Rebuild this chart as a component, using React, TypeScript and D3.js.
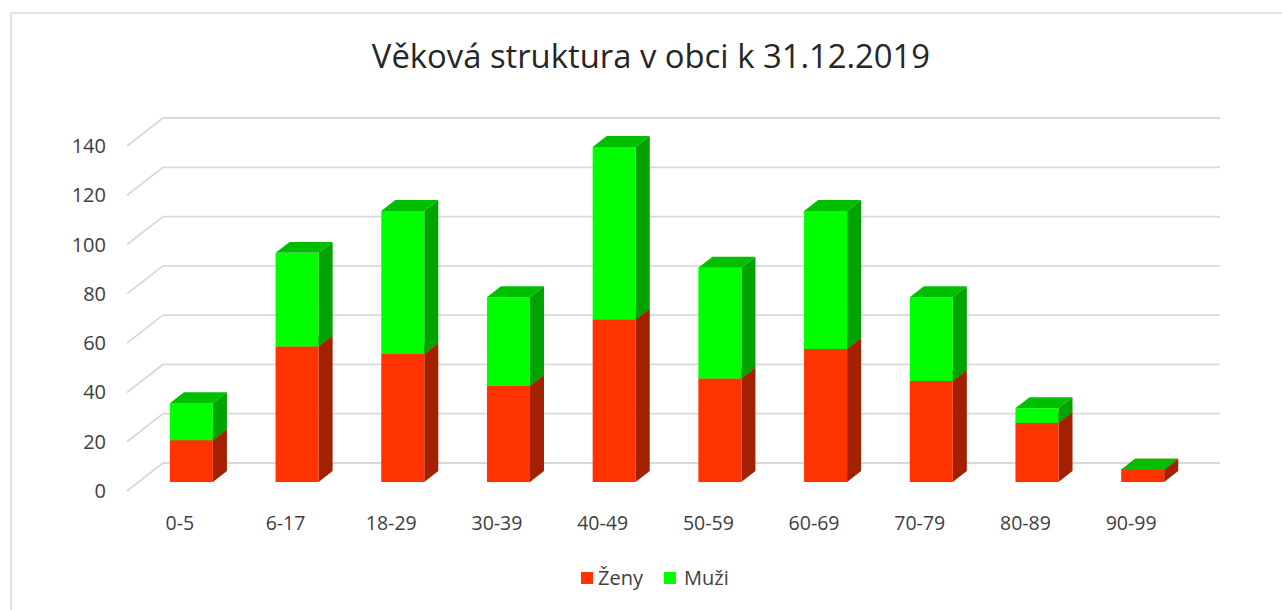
import React from "react";
import * as d3 from "d3";

const categories = ["0-5", "6-17", "18-29", "30-39", "40-49", "50-59", "60-69", "70-79", "80-89", "90-99"];
const zeny = [17, 55, 52, 39, 66, 42, 54, 41, 24, 5];
const muzi = [15, 38, 58, 36, 70, 45, 56, 34, 6, 0];
const yTicks = [0, 20, 40, 60, 80, 100, 120, 140];
const seriesNames = ["Ženy", "Muži"];
const title = "Věková struktura v obci k 31.12.2019";

const W = 1282;
const H = 610;
const FONT = "'Open Sans', 'Noto Sans', sans-serif";

const colors = [
  { front: "#FF3300", side: "#A32100", top: "#D42A00" },
  { front: "#00FF00", side: "#00A300", top: "#00BE00" },
];

export default function App() {
  const frontLeft = 127;
  const frontRight = 1184;
  const depthX = 36;
  const depthY = -28;

  const x = d3.scaleBand<string>().domain(categories).range([frontLeft, frontRight]).padding(0);
  const y = d3.scaleLinear().domain([0, 140]).range([491, 146]);

  const f0 = 0.32;
  const barDepth = 0.39;
  const bw = x.bandwidth() * 0.407;
  const bdx = depthX * barDepth;
  const bdy = depthY * barDepth;

  const stacked = d3.stack<number>().keys([0, 1]).value((i, k) => (k === 0 ? zeny[i] : muzi[i]))(
    categories.map((_, i) => i)
  );

  const bars: JSX.Element[] = [];
  categories.forEach((c, i) => {
    const cx = (x(c) as number) + x.bandwidth() / 2 + depthX * f0;
    const x0 = cx - bw / 2;
    const x1 = cx + bw / 2;
    stacked.forEach((s, k) => {
      const v0 = s[i][0];
      const v1 = s[i][1];
      const yb = y(v0) + depthY * f0;
      const yt = y(v1) + depthY * f0;
      const col = colors[k];
      bars.push(
        <g key={`${c}-${k}`}>
          <polygon
            points={`${x1},${yb} ${x1 + bdx},${yb + bdy} ${x1 + bdx},${yt + bdy} ${x1},${yt}`}
            fill={col.side}
          />
          <rect x={x0} y={yt} width={bw} height={Math.max(0, yb - yt)} fill={col.front} />
          <polygon
            points={`${x0},${yt} ${x1},${yt} ${x1 + bdx},${yt + bdy} ${x0 + bdx},${yt + bdy}`}
            fill={col.top}
          />
        </g>
      );
    });
  });

  return (
    <svg
      width={W}
      height={H}
      style={{ position: "absolute", left: 0, top: 0, display: "block", background: "#fff" }}
    >
      <rect x={0} y={0} width={W} height={H} fill="#fff" />
      <line x1={11} y1={13} x2={W} y2={13} stroke="#d9d9d9" strokeWidth={1.5} />
      <line x1={11} y1={13} x2={11} y2={H} stroke="#d9d9d9" strokeWidth={1.5} />

      <text x={651} y={68} textAnchor="middle" fontFamily={FONT} fontSize={32.8} fill="#262626">
        {title}
      </text>

      {yTicks.map((t) => (
        <g key={t}>
          <polyline
            points={`${frontLeft},${y(t)} ${frontLeft + depthX},${y(t) + depthY} ${frontRight + depthX},${y(t) + depthY}`}
            fill="none"
            stroke="#d9d9d9"
            strokeWidth={1.8}
          />
          <text
            x={106}
            y={y(t)}
            dy="0.35em"
            textAnchor="end"
            fontFamily={FONT}
            fontSize={20}
            fill="#404040"
          >
            {t}
          </text>
        </g>
      ))}

      {bars}

      {categories.map((c) => (
        <text
          key={c}
          x={(x(c) as number) + x.bandwidth() / 2}
          y={530}
          textAnchor="middle"
          fontFamily={FONT}
          fontSize={19.5}
          fill="#404040"
        >
          {c}
        </text>
      ))}

      <g fontFamily={FONT} fontSize={20} fill="#404040">
        <rect x={581} y={572} width={12} height={12} fill={colors[0].front} />
        <text x={598} y={585}>{seriesNames[0]}</text>
        <rect x={664} y={572} width={12} height={12} fill={colors[1].front} />
        <text x={684} y={585}>{seriesNames[1]}</text>
      </g>
    </svg>
  );
}
